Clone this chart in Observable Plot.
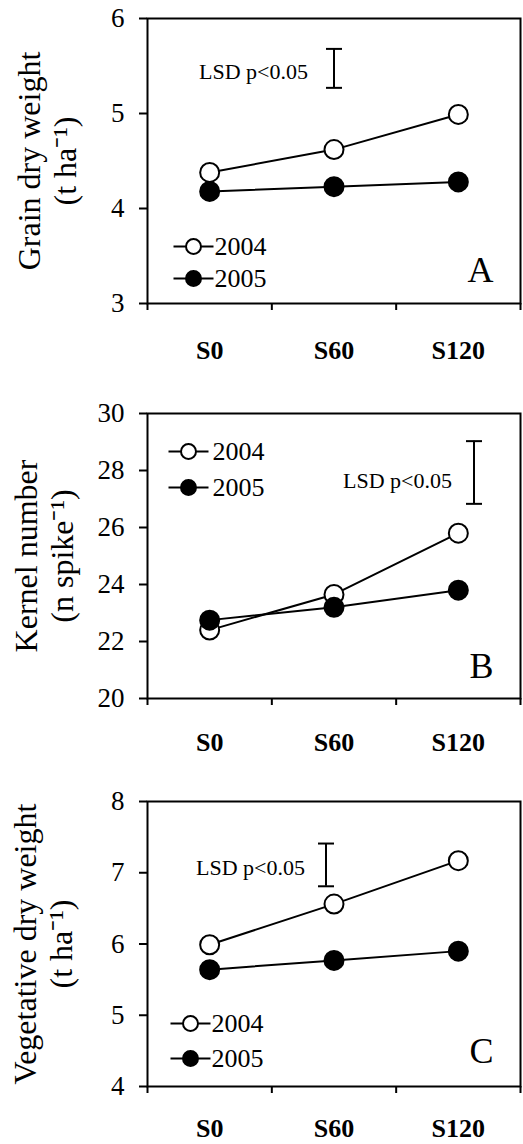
<!DOCTYPE html>
<html><head><meta charset="utf-8">
<script src="https://cdn.jsdelivr.net/npm/d3@7"></script>
<script src="https://cdn.jsdelivr.net/npm/@observablehq/plot@0.6"></script>
<style>
body{margin:0;background:#fff;}
#chart{width:523px;}
#chart svg{display:block;}
</style></head><body><div id="chart"></div>
<script>
// ---- data ----
const categories = ["S0", "S60", "S120"];
const years = ["2004", "2005"];
const grain2004 = [4.38, 4.62, 4.99];
const grain2005 = [4.18, 4.23, 4.28];
const kernel2004 = [22.4, 23.65, 25.8];
const kernel2005 = [22.75, 23.2, 23.8];
const veg2004 = [5.99, 6.56, 7.17];
const veg2005 = [5.64, 5.77, 5.9];
const lsdValues = [0.41, 2.2, 0.6];
const lsdTops = [5.68, 29.03, 7.41];
const yTicksA = [3, 4, 5, 6];
const yTicksB = [20, 22, 24, 26, 28, 30];
const yTicksC = [4, 5, 6, 7, 8];
const panelLetters = ["A", "B", "C"];
const yTitles = ["Grain dry weight\n(t ha\u207B\u00B9)", "Kernel number\n(n spike\u207B\u00B9)", "Vegetative dry weight\n(t ha\u207B\u00B9)"];
const lsdLabel = "LSD p<0.05";

// ---- layout ----
const panels = [
  {s2004: grain2004, s2005: grain2005, ticks: yTicksA, height: 380, mt: 18, mb: 77, xpad: 37,
   lsdDx: 0, lsdTextDx: -26, lsdTextDy: 4, legDx: 46, legTextDx: 67, legDy: [228, 260], letterDy: -33, titleDx: -101},
  {s2004: kernel2004, s2005: kernel2005, ticks: yTicksB, height: 385, mt: 33, mb: 67, xpad: 34,
   lsdDx: 140, lsdTextDx: 118, lsdTextDy: 8, legDx: 41, legTextDx: 65, legDy: [38, 74], letterDy: -32, titleDx: -104},
  {s2004: veg2004, s2005: veg2005, ticks: yTicksC, height: 379, mt: 36, mb: 58, xpad: 32,
   lsdDx: -8, lsdTextDx: -29, lsdTextDy: 3, legDx: 43, legTextDx: 64, legDy: [222, 257], letterDy: -35, titleDx: -105}
];

const capSym = {draw(ctx) { ctx.moveTo(-8, 0); ctx.lineTo(8, 0); }};
const legendSym = {draw(ctx, size) {
  const r = Math.sqrt(size / Math.PI);
  ctx.moveTo(-20, 0); ctx.lineTo(-r, 0);
  ctx.moveTo(r, 0); ctx.lineTo(20, 0);
  ctx.moveTo(r, 0); ctx.arc(0, 0, r, 0, 2 * Math.PI); ctx.closePath();
}};
const font = "'Liberation Serif', 'Times New Roman', serif";
const xPos = d => categories.indexOf(d.cat) + 0.5;

panels.forEach((p, k) => {
  const table = categories.flatMap((c, i) => [
    {cat: c, year: years[0], value: p.s2004[i]},
    {cat: c, year: years[1], value: p.s2005[i]}
  ]);
  const top = lsdTops[k], lsd = lsdValues[k];
  const lsdRule = [{y1: top, y2: top - lsd, mid: top - lsd / 2}];
  const caps = [{y: top}, {y: top - lsd}];
  const legendMarks = years.flatMap((yr, j) => [
    Plot.dot([yr], {frameAnchor: "top-left", dx: p.legDx, dy: p.legDy[j], symbol: legendSym, r: 7.5,
      fill: j === 0 ? "white" : "black", stroke: "black", strokeWidth: 2}),
    Plot.text([yr], {frameAnchor: "top-left", text: d => d, dx: p.legTextDx, dy: p.legDy[j],
      textAnchor: "start", lineAnchor: "middle", fontSize: 26, fill: "black"})
  ]);
  const chart = Plot.plot({
    width: 523, height: p.height,
    marginLeft: 147, marginRight: 3, marginTop: p.mt, marginBottom: p.mb,
    style: {fontFamily: font, fontSize: "26px", color: "black", background: "white", overflow: "visible"},
    x: {type: "linear", domain: [0, categories.length]},
    y: {domain: [p.ticks[0], p.ticks[p.ticks.length - 1]]},
    marks: [
      Plot.axisY({ticks: p.ticks, tickFormat: d3.format("d"), tickSize: 8, tickPadding: 15, strokeWidth: 2, fontSize: 27, label: null}),
      Plot.axisX({ticks: d3.range(categories.length + 1), tickSize: 7, tickFormat: () => "", strokeWidth: 2, label: null}),
      Plot.axisX({ticks: categories.map((c, i) => i + 0.5), tickFormat: v => categories[Math.round(v - 0.5)],
        tickSize: 0, tickPadding: p.xpad, fontSize: 26, fontWeight: "bold", label: null}),
      Plot.frame({stroke: "black", strokeWidth: 2}),
      Plot.line(table, {x: xPos, y: "value", z: "year", stroke: "black", strokeWidth: 2}),
      Plot.dot(table.filter(d => d.year === years[0]), {x: xPos, y: "value", r: 9.5, fill: "white", stroke: "black", strokeWidth: 2}),
      Plot.dot(table.filter(d => d.year === years[1]), {x: xPos, y: "value", r: 9.5, fill: "black", stroke: "black", strokeWidth: 2}),
      Plot.ruleX(lsdRule, {x: null, y1: "y1", y2: "y2", dx: p.lsdDx, stroke: "black", strokeWidth: 2}),
      Plot.dot(caps, {y: "y", frameAnchor: "middle", dx: p.lsdDx, symbol: capSym, r: 5, fill: "none", stroke: "black", strokeWidth: 2}),
      Plot.text(lsdRule, {y: "mid", frameAnchor: "middle", text: () => lsdLabel, textAnchor: "end", lineAnchor: "middle",
        dx: p.lsdTextDx, dy: p.lsdTextDy, fontSize: 22, fill: "black"}),
      ...legendMarks,
      Plot.text([panelLetters[k]], {frameAnchor: "bottom-right", text: d => d, dx: -27, dy: p.letterDy,
        textAnchor: "end", lineAnchor: "middle", fontSize: 36, fill: "black"}),
      Plot.text([yTitles[k]], {frameAnchor: "left", text: d => d, rotate: -90, dx: p.titleDx,
        textAnchor: "middle", lineAnchor: "middle", lineHeight: 1.13, fontSize: 32, fill: "black"})
    ]
  });
  document.getElementById("chart").appendChild(chart);
});
</script></body></html>
